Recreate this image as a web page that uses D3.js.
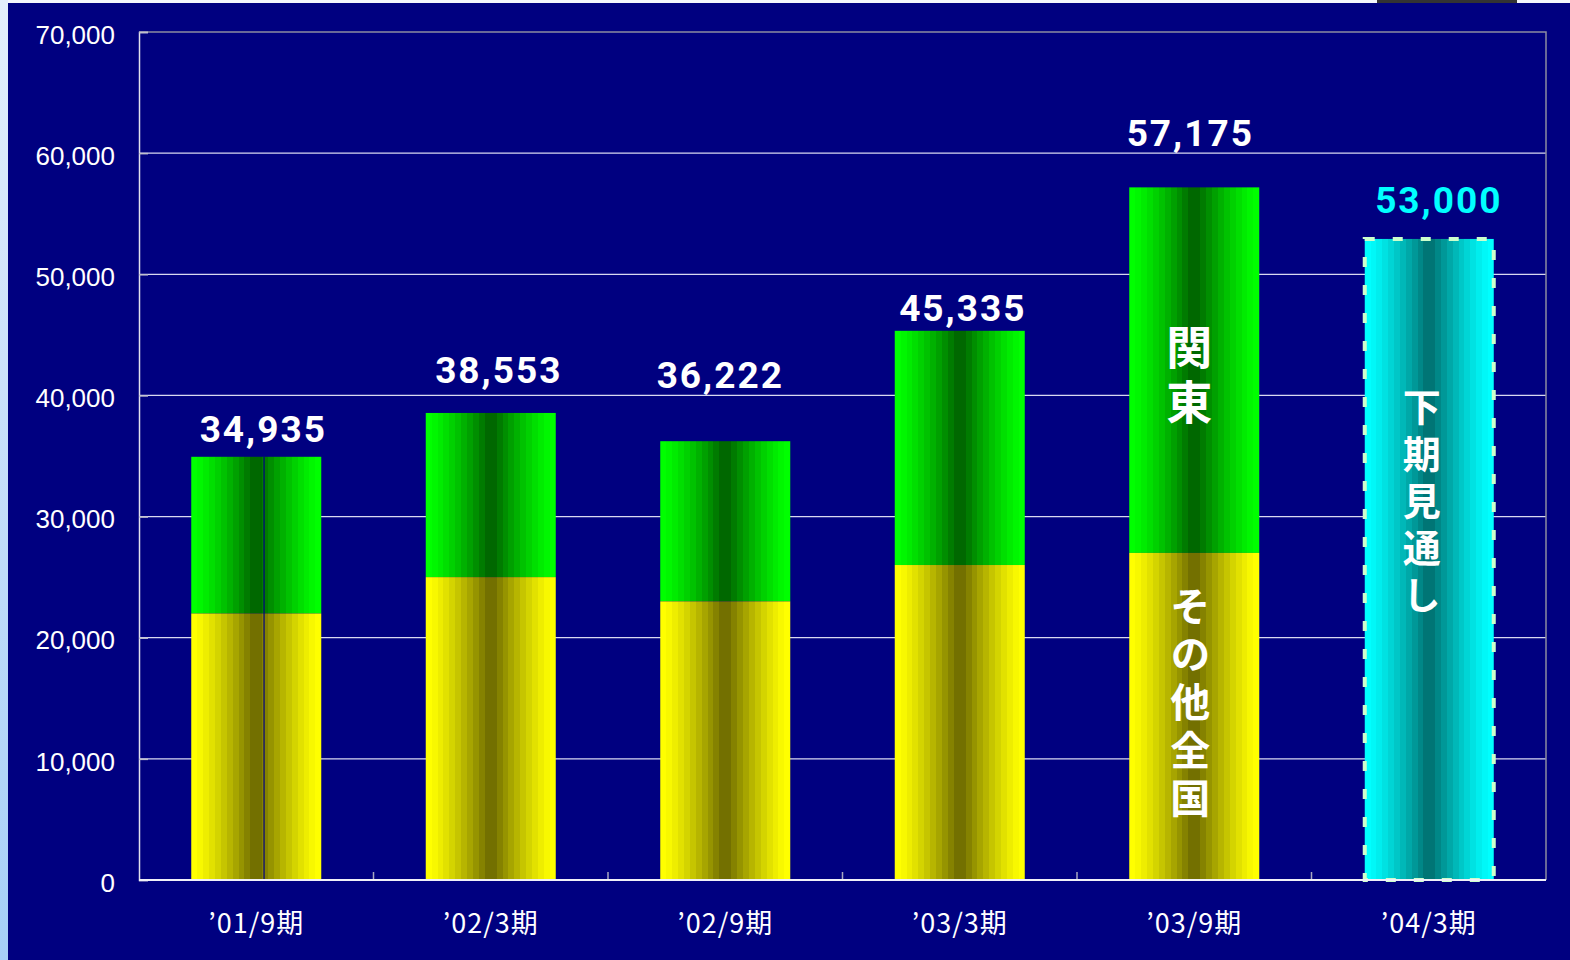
<!DOCTYPE html>
<html>
<head>
<meta charset="utf-8">
<script src="https://cdn.jsdelivr.net/npm/d3@7"></script>
<style>
  body { margin: 0; overflow: hidden; background: #e8f0fa; }
</style>
</head>
<body>
<div id="chart"></div>
<script>
// data
const periods = ["’01/9期", "’02/3期", "’02/9期", "’03/3期", "’03/9期", "’04/3期"];
const others = [22000, 25000, 23000, 26000, 27000, null];   // その他全国
const totals = [34935, 38553, 36222, 45335, 57175, null];   // 関東 + その他全国
const outlook = [null, null, null, null, null, 53000];       // 下期見通し
const yTicks = [0, 10000, 20000, 30000, 40000, 50000, 60000, 70000];

// label tweaks (px), the labels in the original sit by hand
const labelGap = [15, 30, 53, 10, 41, 25];
const labelDx = [7, 8, -5, 3, -4, 10];

const W = 1570, H = 960;
const plot = { left: 139, top: 32, right: 1546, bottom: 880 };

const svg = d3.select("#chart").append("svg")
    .attr("width", W)
    .attr("height", H);

const defs = svg.append("defs");

// stepped horizontal gradient, bright at the edges and dark in the middle
function bandGradient(id, edge, dark) {
    const g = defs.append("linearGradient").attr("id", id)
        .attr("x1", 0).attr("x2", 1).attr("y1", 0).attr("y2", 0);
    const n = 11;
    const mix = d3.interpolateRgb(edge, dark);
    const shade = i => mix(Math.pow(i / (n - 1), 1.3));
    const stops = [];
    for (let i = 0; i < n; i++) {
        stops.push([i / n * 0.5, (i + 1) / n * 0.5, shade(i)]);
    }
    for (let i = n - 1; i >= 0; i--) {
        stops.push([1 - (i + 1) / n * 0.5, 1 - i / n * 0.5, shade(i)]);
    }
    stops.forEach(s => {
        g.append("stop").attr("offset", s[0]).attr("stop-color", s[2]);
        g.append("stop").attr("offset", s[1]).attr("stop-color", s[2]);
    });
}
bandGradient("gGreen", "#00ff00", "#006800");
bandGradient("gYellow", "#ffff00", "#737000");
bandGradient("gCyan", "#00ffff", "#007575");

const edgeGrad = defs.append("linearGradient").attr("id", "gEdge")
    .attr("x1", 0).attr("x2", 0).attr("y1", 0).attr("y2", 1);
edgeGrad.append("stop").attr("offset", 0).attr("stop-color", "#e4effc");
edgeGrad.append("stop").attr("offset", 1).attr("stop-color", "#a6cff7");

// page background
svg.append("rect").attr("x", 0).attr("y", 0).attr("width", W).attr("height", H).attr("fill", "#f4f7fc");
svg.append("rect").attr("x", 0).attr("y", 0).attr("width", 8).attr("height", H).attr("fill", "url(#gEdge)");
svg.append("rect").attr("x", 1377).attr("y", 0).attr("width", 140).attr("height", 3).attr("fill", "#333");
svg.append("rect").attr("x", 8).attr("y", 3).attr("width", W - 8).attr("height", H - 3).attr("fill", "#000080");

const x = d3.scaleBand()
    .domain(periods)
    .range([plot.left, plot.right])
    .paddingInner(0.4456)
    .paddingOuter(0.2228);

const y = d3.scaleLinear()
    .domain([0, 70000])
    .range([plot.bottom, plot.top]);

// gridlines
svg.append("g")
    .selectAll("line")
    .data(yTicks.filter(d => d > 0 && d < 70000))
    .enter().append("line")
    .attr("x1", plot.left).attr("x2", plot.right)
    .attr("y1", d => y(d)).attr("y2", d => y(d))
    .attr("stroke", "#d8d8f0")
    .attr("stroke-width", 1.2);

// top and right frame
svg.append("path")
    .attr("d", `M${plot.left},${plot.top}H${plot.right}V${plot.bottom}`)
    .attr("fill", "none")
    .attr("stroke", "#8c8ca0")
    .attr("stroke-width", 1.5);

// y axis
const yAxis = svg.append("g")
    .attr("transform", `translate(${plot.left},0)`)
    .call(d3.axisRight(y).tickValues(yTicks).tickSize(9).tickFormat(""));
yAxis.select(".domain").attr("stroke", "#e0e0ec").attr("stroke-width", 1.5);
yAxis.selectAll(".tick line").attr("stroke", "#c0c0cc").attr("stroke-width", 1.5);

svg.append("g")
    .selectAll("text")
    .data(yTicks)
    .enter().append("text")
    .attr("x", 115)
    .attr("y", d => y(d))
    .attr("dy", "0.45em")
    .attr("text-anchor", "end")
    .attr("fill", "#ffffff")
    .style("font-family", "'Liberation Sans', Arial, sans-serif")
    .style("font-size", "26px")
    .text(d => d3.format(",")(d));

// category boundary ticks on the x axis
const step = x.step();
svg.append("g")
    .selectAll("line")
    .data(periods.slice(1))
    .enter().append("line")
    .attr("x1", d => x(d) - step * x.paddingInner() / 2)
    .attr("x2", d => x(d) - step * x.paddingInner() / 2)
    .attr("y1", plot.bottom - 8).attr("y2", plot.bottom)
    .attr("stroke", "#a8a8c0")
    .attr("stroke-width", 1.5);

// bars: その他全国 (bottom), 関東 (top)
const bw = x.bandwidth();
const rows = periods.map((p, i) => ({ p, i, other: others[i], total: totals[i], outlook: outlook[i] }));
const stacked = rows.filter(d => d.total != null);

svg.append("g").selectAll("rect")
    .data(stacked)
    .enter().append("rect")
    .attr("x", d => x(d.p))
    .attr("y", d => y(d.total))
    .attr("width", bw)
    .attr("height", d => y(d.other) - y(d.total))
    .attr("fill", "url(#gGreen)");

svg.append("g").selectAll("rect")
    .data(stacked)
    .enter().append("rect")
    .attr("x", d => x(d.p))
    .attr("y", d => y(d.other))
    .attr("width", bw)
    .attr("height", d => y(0) - y(d.other))
    .attr("fill", "url(#gYellow)");

// the first bar is split in two in the original
svg.append("line")
    .attr("x1", x(periods[0]) + bw * 0.56).attr("x2", x(periods[0]) + bw * 0.56)
    .attr("y1", y(totals[0])).attr("y2", y(0))
    .attr("stroke", "#000080")
    .attr("stroke-width", 1.2);

// outlook bar
const outRows = rows.filter(d => d.outlook != null);
svg.append("g").selectAll("rect")
    .data(outRows)
    .enter().append("rect")
    .attr("x", d => x(d.p) + 1)
    .attr("y", d => y(d.outlook) + 1)
    .attr("width", bw - 1)
    .attr("height", d => y(0) - y(d.outlook) - 1)
    .attr("fill", "url(#gCyan)")
    .attr("stroke", "#ccffcc")
    .attr("stroke-width", 4)
    .attr("stroke-dasharray", "10 18");

// bottom axis line
svg.append("line")
    .attr("x1", plot.left).attr("x2", plot.right)
    .attr("y1", plot.bottom).attr("y2", plot.bottom)
    .attr("stroke", "#f0f0f8")
    .attr("stroke-width", 2);

// x labels
svg.append("g")
    .selectAll("text")
    .data(periods)
    .enter().append("text")
    .attr("x", d => x(d) + bw / 2)
    .attr("y", 933)
    .attr("text-anchor", "middle")
    .attr("fill", "#ffffff")
    .style("font-family", "'Noto Sans CJK JP', sans-serif")
    .style("font-size", "27px")
    .style("letter-spacing", "1px")
    .text(d => d);

// value labels
svg.append("g")
    .selectAll("text")
    .data(rows)
    .enter().append("text")
    .attr("x", d => x(d.p) + bw / 2 + labelDx[d.i])
    .attr("y", d => y(d.total != null ? d.total : d.outlook) - labelGap[d.i])
    .attr("text-anchor", "middle")
    .attr("fill", d => d.total != null ? "#ffffff" : "#00ffff")
    .style("font-family", "Roboto, 'Liberation Sans', sans-serif")
    .style("font-weight", "bold")
    .style("font-size", "37px")
    .style("letter-spacing", "2px")
    .text(d => d3.format(",")(d.total != null ? d.total : d.outlook));

// vertical annotations, one text each, written top to bottom
function vText(period, dx, topValue, pitch, size, str) {
    svg.append("text")
        .attr("x", x(period) + bw / 2 + dx)
        .attr("y", y(topValue))
        .attr("fill", "#ffffff")
        .style("writing-mode", "vertical-rl")
        .style("font-family", "'Noto Sans CJK JP', sans-serif")
        .style("font-weight", "bold")
        .style("font-size", size + "px")
        .style("letter-spacing", (pitch - size) + "px")
        .text(str);
}
vText(periods[4], -5, 45900, 55, 46, "関東");
vText(periods[4], -4, 24270, 48, 40, "その他全国");
vText(periods[5], -7, 40610, 47, 38, "下期見通し");
</script>
</body>
</html>
